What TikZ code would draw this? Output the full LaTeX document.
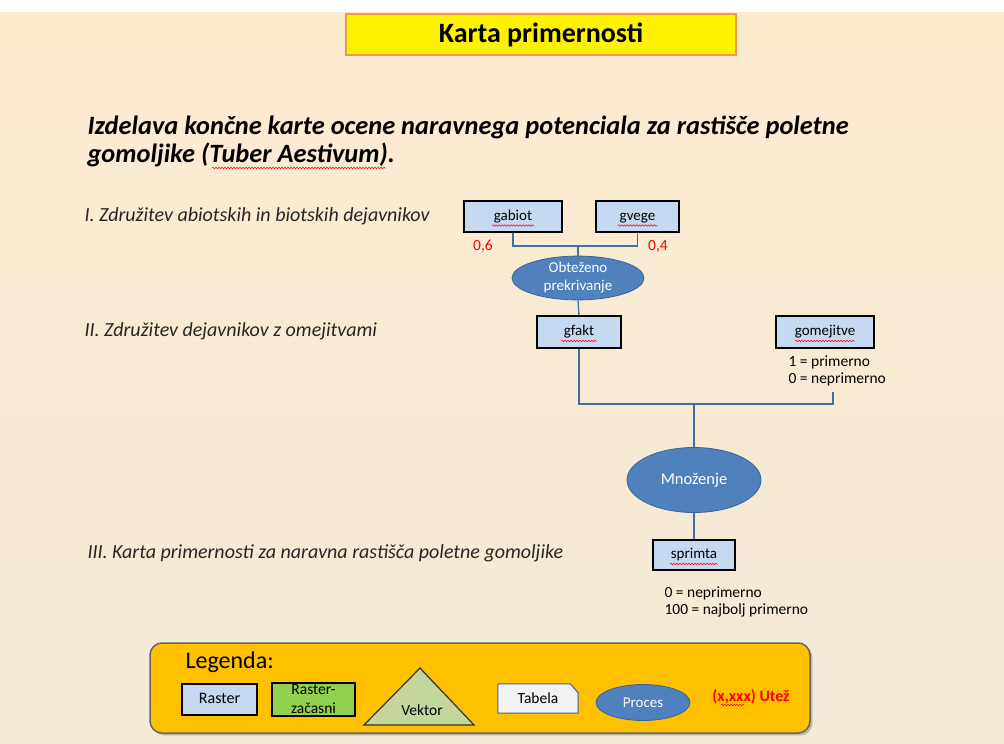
\documentclass[tikz,border=0pt]{standalone}
\usepackage{fontspec}
\setmainfont{Carlito}
\usepackage{xcolor}
\usepackage{tikz}
\usetikzlibrary{shapes.geometric,decorations.pathmorphing,shadows,positioning}

\definecolor{cream}{HTML}{FDEBD0}
\definecolor{creamlow}{HTML}{F3EAD8}
\definecolor{rasterblue}{HTML}{C6D9F1}
\definecolor{procblue}{HTML}{4F81BD}
\definecolor{procedge}{HTML}{3A6496}
\definecolor{titleorange}{HTML}{F79646}
\definecolor{legendgold}{HTML}{FFC000}
\definecolor{tempgreen}{HTML}{92D050}
\definecolor{vecgreen}{HTML}{C3D69B}
\definecolor{wred}{HTML}{FF0000}

\begin{document}
\begin{tikzpicture}[x=1pt, y=-1pt,
  raster/.style={draw=black, line width=1.3pt, fill=rasterblue, inner sep=0pt, text height=10pt, text depth=3pt, font=\fontsize{15}{16}\selectfont},
  proc/.style={ellipse, draw=procedge, line width=0.8pt, fill=procblue, text=white, inner sep=0pt, align=center, font=\fontsize{15}{18}\selectfont},
  link/.style={draw=procblue!85!black, line width=1.3pt},
  stage/.style={anchor=west, text=black!85, font=\fontsize{20}{22}\selectfont\itshape},
  note/.style={anchor=north west, align=left, font=\fontsize{15.5}{17}\selectfont},
  weight/.style={text=wred, font=\fontsize{15.5}{16}\selectfont},
  squig/.style={draw=wred, line width=0.5pt, decorate, decoration={snake, amplitude=0.8pt, segment length=3pt}}]

  \useasboundingbox (0,0) rectangle (1004,744);
  \fill[white] (0,0) rectangle (1004,12);
  \shade[top color=cream, bottom color=creamlow] (0,12) rectangle (1004,744);

  \node[draw=titleorange, line width=2pt, fill=yellow, minimum width=390pt, minimum height=41pt,
        font=\fontsize{28}{29}\selectfont\bfseries] (title) at (541,34.5) {Karta primernosti};

  \node[anchor=west, align=left, font=\fontsize{26.4}{28}\selectfont\bfseries\itshape] (head) at (84,141)
    {Izdelava končne karte ocene naravnega potenciala za rastišče poletne\\gomoljike (Tuber Aestivum).};

  \node[stage] (st1) at (81,216) {I. Združitev abiotskih in biotskih dejavnikov};
  \node[stage] (st2) at (81,331) {II. Združitev dejavnikov  z omejitvami};
  \node[stage] (st3) at (84,553) {III. Karta primernosti za naravna  rastišča poletne gomoljike};

  \node[raster, minimum width=98pt, minimum height=31pt] (gabiot) at (513,216.5) {gabiot};
  \node[raster, minimum width=83pt, minimum height=31pt] (gvege) at (637.5,216.5) {gvege};
  \node[weight] (w1) at (483,246) {0,6};
  \node[weight] (w2) at (658,246) {0,4};
  \node[proc, minimum width=132pt, minimum height=40pt] (obt) at (578,278) {Obteženo\\prekrivanje};

  \node[raster, minimum width=84pt, minimum height=32pt] (gfakt) at (579,332) {gfakt};
  \node[raster, minimum width=98pt, minimum height=32pt] (gomej) at (825,332) {gomejitve};
  \node[note] (gomejnote) at (785,352) {1 = primerno\\0 = neprimerno};

  \node[proc, minimum width=134pt, minimum height=65pt, font=\fontsize{16.5}{18}\selectfont] (mno) at (694,480) {Množenje};
  \node[raster, minimum width=82pt, minimum height=30pt] (sprimta) at (694,555) {sprimta};
  \node[note] (sprimtanote) at (661,583) {0 = neprimerno\\100 = najbolj primerno};

  \coordinate (j1) at (578,246);
  \coordinate (j2) at (694,404);
  \coordinate (omend) at (833,392);
  \draw[link] (gabiot.south) |- (j1) -| (gvege.south);
  \draw[link] (j1) -- (obt.north);
  \draw[link] (obt.south) -- (gfakt.north);
  \draw[link] (gfakt.south) |- (j2) -| (omend);
  \draw[link] (j2) -- (mno.north);
  \draw[link] (mno.south) -- (sprimta.north);

  \foreach \n/\w in {gabiot/21, gvege/20, gfakt/18, gomej/30, sprimta/24}
    \draw[squig] ([shift={(-\w,9)}]\n.center) -- ++(2*\w,0);
  \draw[squig] (212,168) -- (386,168);

  \node[draw=black!60, line width=1.5pt, rounded corners=12pt, fill=legendgold, drop shadow,
        minimum width=660pt, minimum height=90pt] (legend) at (480,688) {};
  \node[anchor=west, font=\fontsize{24}{26}\selectfont] (legtitle) at (182,662) {Legenda:};
  \node[raster, minimum width=75pt, minimum height=31pt, font=\fontsize{16}{17}\selectfont] (lraster) at (219.5,699.5) {Raster};
  \node[raster, fill=tempgreen, minimum width=83pt, minimum height=33pt, align=center,
        text height=, text depth=, font=\fontsize{15.5}{19}\selectfont] (ltemp) at (313.5,699.5) {Raster-\\začasni};
  \draw[draw=black!80, line width=1.2pt, fill=vecgreen] (364,725) -- (420,668) -- (474,725) -- cycle;
  \node[font=\fontsize{15.5}{16}\selectfont] (lvek) at (422,710) {Vektor};
  \node[minimum width=80pt, minimum height=29pt] (ltab) at (538,698.5) {};
  \draw[draw=procedge, line width=1pt, fill=white!95!black]
    (ltab.south west) -- (ltab.north west) -- ([xshift=-8pt]ltab.north east)
    -- ([yshift=-9pt]ltab.north east) -- (ltab.south east) -- cycle;
  \node[font=\fontsize{15.5}{16}\selectfont] (ltabtext) at (ltab) {Tabela};
  \node[proc, minimum width=94pt, minimum height=36pt] (lproc) at (643,702.5) {Proces};
  \node[text=wred, font=\fontsize{16}{17}\selectfont\bfseries] (lutez) at (751,697) {(x,xxx) Utež};
  \draw[squig] (721,705) -- (744,705);
\end{tikzpicture}
\end{document}
